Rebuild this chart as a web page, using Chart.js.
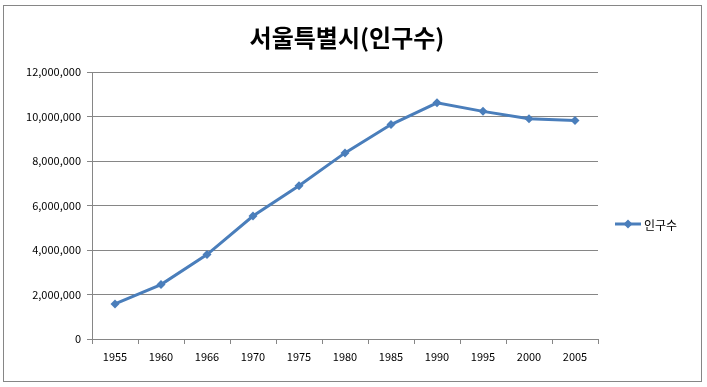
<!DOCTYPE html>
<html><head><meta charset="utf-8">
<script src="https://cdn.jsdelivr.net/npm/chart.js@4.4.0/dist/chart.umd.min.js"></script>
<style>html,body{margin:0;padding:0;background:#fff}#wrap{width:707px;height:387px;position:relative}</style>
</head><body><div id="wrap"><canvas id="c" width="707" height="387"></canvas></div>
<script>
const titleText = '서울특별시(인구수)';
const seriesName = '인구수';
const years = ['1955','1960','1966','1970','1975','1980','1985','1990','1995','2000','2005'];
const population = [1574868, 2445402, 3793280, 5525262, 6889502, 8364379, 9639110, 10612577, 10231217, 9895217, 9820171];
const yMin = 0, yMax = 12000000, yStep = 2000000;

const FONT = "'Noto Sans CJK KR', 'Noto Sans', sans-serif";
const LINE = '#4A7EBB';

const deco = {
  id: 'deco',
  beforeDraw(chart) {
    const ctx = chart.ctx;
    ctx.save();
    ctx.fillStyle = '#fff';
    ctx.fillRect(0, 0, chart.width, chart.height);
    ctx.strokeStyle = '#868686';
    ctx.lineWidth = 1;
    ctx.strokeRect(3.5, 5.5, 698, 376);
    ctx.restore();
  },
  afterDraw(chart) {
    const ctx = chart.ctx;
    ctx.save();
    ctx.fillStyle = '#000';
    ctx.font = "bold 24px " + FONT;
    ctx.textAlign = 'center';
    ctx.textBaseline = 'middle';
    ctx.fillText(titleText, 347, 38);
    // legend
    const ly = 224;
    ctx.strokeStyle = LINE;
    ctx.lineWidth = 3;
    ctx.beginPath(); ctx.moveTo(615, ly); ctx.lineTo(641, ly); ctx.stroke();
    ctx.fillStyle = LINE;
    ctx.beginPath();
    ctx.moveTo(628, ly - 4.5); ctx.lineTo(632.5, ly); ctx.lineTo(628, ly + 4.5); ctx.lineTo(623.5, ly); ctx.closePath(); ctx.fill();
    ctx.fillStyle = '#000';
    ctx.font = "12px " + FONT;
    ctx.textAlign = 'left';
    ctx.fillText(chart.data.datasets[0].label, 644, ly + 1);
    ctx.restore();
  }
};

new Chart(document.getElementById('c'), {
  type: 'line',
  data: {
    labels: years,
    datasets: [{
      label: seriesName,
      data: population,
      borderColor: LINE,
      backgroundColor: LINE,
      borderWidth: 3,
      pointStyle: 'rectRot',
      pointRadius: 4.5,
      pointHoverRadius: 4.5,
      pointBorderWidth: 0,
      tension: 0
    }]
  },
  options: {
    responsive: false,
    animation: false,
    devicePixelRatio: 1,
    layout: { padding: { left: 0, right: 109, top: 72, bottom: 0 } },
    plugins: { legend: { display: false }, title: { display: false }, tooltip: { enabled: false } },
    scales: {
      x: {
        offset: true,
        grid: { offset: true, drawOnChartArea: false, drawTicks: true, tickLength: 5, color: '#868686' },
        border: { color: '#868686' },
        ticks: { color: '#000', font: { family: FONT, size: 11 }, padding: 6, maxRotation: 0, autoSkip: false },
        afterFit(s) { s.height = 48; }
      },
      y: {
        min: yMin, max: yMax,
        grid: { color: '#868686', tickLength: 5 },
        border: { color: '#868686' },
        ticks: { stepSize: yStep, color: '#000', font: { family: FONT, size: 11 }, padding: 6,
          callback: v => v.toLocaleString('en-US') },
        afterFit(s) { s.width = 92; }
      }
    }
  },
  plugins: [deco]
});
</script></body></html>
